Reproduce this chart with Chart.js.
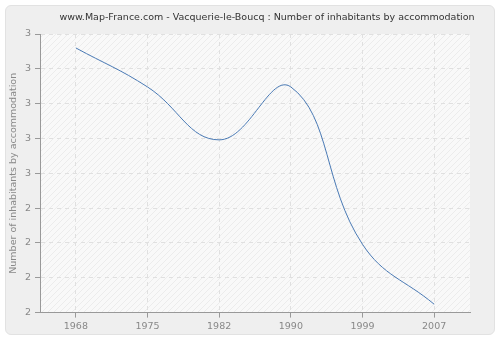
<!DOCTYPE html>
<html>
<head>
<meta charset="utf-8">
<script src="https://cdn.jsdelivr.net/npm/chart.js@4/dist/chart.umd.min.js"></script>
<style>
  html, body { margin: 0; padding: 0; background: #ffffff; }
  #wrap { position: absolute; left: 0; top: 0; width: 500px; height: 340px; }
  #panel { position: absolute; left: 5px; top: 5px; width: 488px; height: 328px;
           background: #efefef; border: 1px solid #e2e2e2; border-radius: 6px; }
  canvas { position: absolute; left: 0; top: 0; }
</style>
</head>
<body>
<div id="wrap">
  <div id="panel"></div>
  <canvas id="c" width="500" height="340"></canvas>
</div>
<script>
const titleText = "www.Map-France.com - Vacquerie-le-Boucq : Number of inhabitants by accommodation";
const yAxisTitle = "Number of inhabitants by accommodation";
const years = ["1968", "1975", "1982", "1990", "1999", "2007"];
const inhabitantsPerHome = [2.95, 2.81, 2.62, 2.81, 2.245, 2.03];
const yTickValues = [2, 2.125, 2.25, 2.375, 2.5, 2.625, 2.75, 2.875, 3];
const yTickLabels = ["2", "2", "2", "2", "3", "3", "3", "3", "3"];

function hatchPattern() {
  const p = document.createElement('canvas');
  p.width = 6; p.height = 6;
  const g = p.getContext('2d');
  g.fillStyle = '#f9f9f9';
  g.fillRect(0, 0, 6, 6);
  g.strokeStyle = '#ececec';
  g.lineWidth = 1;
  g.beginPath();
  g.moveTo(0, 6); g.lineTo(6, 0);
  g.moveTo(-3, 3); g.lineTo(3, -3);
  g.moveTo(3, 9); g.lineTo(9, 3);
  g.stroke();
  return g.createPattern(p, 'repeat');
}

const bgPlugin = {
  id: 'plotBg',
  beforeDraw(chart) {
    const a = chart.chartArea, ctx = chart.ctx;
    ctx.save();
    ctx.fillStyle = hatchPattern();
    ctx.fillRect(a.left, a.top, a.right - a.left, a.bottom - a.top);
    ctx.restore();
  },
  afterDraw(chart) {
    const ctx = chart.ctx;
    ctx.save();
    ctx.font = '9.5px "DejaVu Sans"';
    ctx.fillStyle = '#333333';
    ctx.textAlign = 'center';
    ctx.textBaseline = 'middle';
    ctx.fillText(titleText, 267, 18);
    ctx.restore();
  }
};

new Chart(document.getElementById('c'), {
  type: 'line',
  data: {
    labels: years,
    datasets: [{
      data: inhabitantsPerHome,
      borderColor: '#4a7ab5',
      borderWidth: 1,
      pointRadius: 0,
      fill: false,
      tension: 0.42
    }]
  },
  options: {
    responsive: false,
    animation: false,
    devicePixelRatio: 1,
    layout: { padding: { left: 8, right: 30, top: 34, bottom: 5 } },
    plugins: { legend: { display: false }, tooltip: { enabled: false }, title: { display: false } },
    scales: {
      x: {
        type: 'category',
        offset: true,
        grid: { color: '#e0e0e0', drawTicks: true, tickLength: 5, tickColor: '#999999', offset: false },
        border: { color: '#999999', width: 1, dash: [4, 4] },
        ticks: { color: '#888888', font: { family: 'DejaVu Sans', size: 9.5 }, padding: 3, maxRotation: 0 }
      },
      y: {
        min: 2, max: 3,
        afterBuildTicks(scale) { scale.ticks = yTickValues.map(v => ({ value: v })); },
        afterFit(scale) { scale.width = 32; },
        grid: { color: '#e0e0e0', tickLength: 5, tickColor: '#999999' },
        border: { color: '#999999', width: 1, dash: [4, 4] },
        ticks: {
          color: '#888888', font: { family: 'DejaVu Sans', size: 9.5 }, padding: 4,
          callback(v, i) { return yTickLabels[i]; }
        },
        title: { display: true, text: yAxisTitle, color: '#888888', font: { family: 'DejaVu Sans', size: 9.5 }, padding: 0 }
      }
    }
  },
  plugins: [bgPlugin]
});
</script>
</body>
</html>
